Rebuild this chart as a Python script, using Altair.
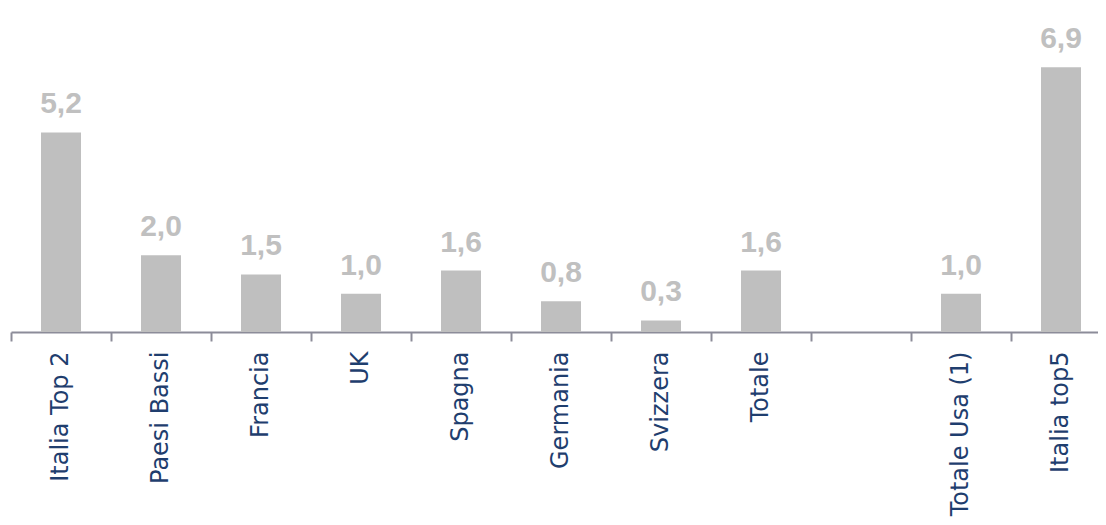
import altair as alt
import pandas as pd

categories = ["Italia Top 2", "Paesi Bassi", "Francia", "UK", "Spagna", "Germania",
              "Svizzera", "Totale", " ", "Totale Usa (1)", "Italia top5"]
values = [5.2, 2.0, 1.5, 1.0, 1.6, 0.8, 0.3, 1.6, None, 1.0, 6.9]

df = pd.DataFrame({"cat": categories, "val": values})

x = alt.X("cat:N", sort=categories, title=None,
          scale=alt.Scale(domain=categories, range=[0, 1100], paddingInner=0, paddingOuter=0),
          axis=alt.Axis(labelAngle=-90, labelAlign="right", labelBaseline="middle",
                        labelFont="DejaVu Sans", labelFontSize=24, labelColor="#1F3E6E",
                        labelPadding=10, bandPosition=0, tickSize=9, tickWidth=2,
                        tickColor="#8C8C99", domainColor="#8C8C99", domainWidth=2,
                        labelOverlap=False, labelLimit=0))

base = alt.Chart(df).transform_filter("isValid(datum.val)")

bars = base.mark_bar(color="#BFBFBF", size=40).encode(
    x=x,
    y=alt.Y("val:Q", scale=alt.Scale(domain=[0, 8]), axis=None),
)

labels = base.transform_calculate(
    lab="replace(format(datum.val, '.1f'), '.', ',')"
).mark_text(font="Liberation Sans", fontWeight="bold", fontSize=30, color="#C0C0C0",
            baseline="alphabetic", dy=-19).encode(
    x=x,
    y=alt.Y("val:Q", scale=alt.Scale(domain=[0, 8]), axis=None),
    text="lab:N",
)

chart = alt.layer(bars, labels).properties(
    width=1087, height=307,
    autosize=alt.AutoSizeParams(type="none"),
    padding={"left": 3, "top": 17, "right": 0, "bottom": 185},
).configure_view(stroke=None)

chart.save("out.html", embed_options={"renderer": "svg", "actions": False})
